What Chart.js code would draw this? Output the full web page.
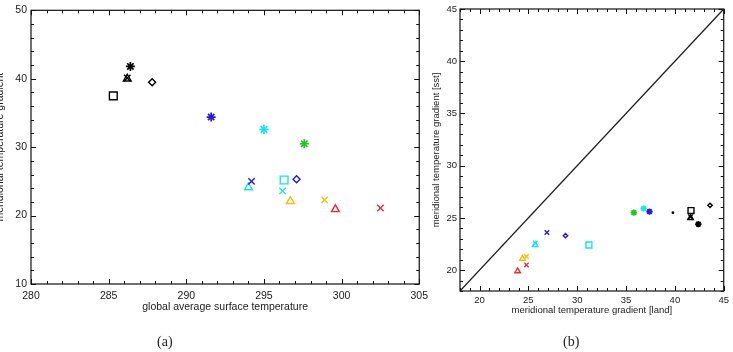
<!DOCTYPE html>
<html lang="en">
<head>
    <meta charset="UTF-8">
    <title>Meridional temperature gradient</title>
    <script src="https://cdn.jsdelivr.net/npm/chart.js"></script>
    <style>
        body {
            margin: 0;
            background: #fff;
            width: 733px;
            height: 352px;
            overflow: hidden;
            position: relative;
        }
        canvas {
            position: absolute;
            top: 0;
        }
        #chartA { left: -6px; }
        #chartB { left: 428px; }
        .caption {
            position: absolute;
            top: 334px;
            font-family: "Liberation Serif", serif;
            font-size: 14px;
            color: #222;
        }
    </style>
</head>
<body>
    <canvas id="chartA" width="440" height="352"></canvas>
    <canvas id="chartB" width="305" height="352"></canvas>
    <div class="caption" style="left:157px">(a)</div>
    <div class="caption" style="left:563px">(b)</div>

    <script>
        // one entry per model (same order in every array)
        const colors = ['#000', '#000', '#000', '#000', '#000',
                        '#2c18dc', '#14e6ee', '#1ec81e', '#2c18dc', '#14e6ee',
                        '#14e6ee', '#2c18dc', '#14e6ee', '#f8bc10', '#f8bc10',
                        '#ec2a36', '#ec2a36', '#000'];
        const shapes = ['rect', 'crossRot', 'triangle', 'star', 'rectRot',
                        'star', 'star', 'star', 'crossRot', 'triangle',
                        'rect', 'rectRot', 'crossRot', 'triangle', 'crossRot',
                        'triangle', 'crossRot', 'dot'];
        // panel (a)
        const globalSurfTemp = [285.3, 286.2, 286.2, 286.4, 287.8,
                                291.6, 295.0, 297.6, 294.2, 294.0,
                                296.3, 297.1, 296.2, 296.7, 298.9,
                                299.6, 302.5, null];
        const meridGrad = [37.5, 40.1, 40.0, 41.8, 39.5,
                           34.4, 32.6, 30.5, 25.0, 24.1,
                           25.2, 25.3, 23.6, 22.1, 22.3,
                           20.9, 21.1, null];
        const ticksAx = [280, 285, 290, 295, 300, 305];
        const ticksAy = [10, 20, 30, 40, 50];
        // panel (b)
        const gradLand = [41.65, 41.6, 41.6, 42.4, 43.6,
                          37.4, 36.8, 35.8, 26.9, 25.7,
                          31.2, 28.8, 25.7, 24.4, 24.8,
                          23.9, 24.8, 39.8];
        const gradSst = [25.7, 25.1, 25.0, 24.4, 26.2,
                         25.6, 25.9, 25.5, 23.6, 22.4,
                         22.4, 23.3, 22.6, 21.1, 21.3,
                         19.9, 20.5, 25.5];
        const ticksB = [20, 25, 30, 35, 40, 45];
        const oneToOne = [18, 45];

        // box frame with inward major + minor ticks on all four sides (IDL look)
        const frameTicks = {
            id: 'frameTicks',
            beforeDatasetsDraw(chart, args, opts) {
                const {ctx, chartArea: a} = chart;
                const xs = chart.scales.x, ys = chart.scales.y;
                ctx.save();
                ctx.strokeStyle = '#111';
                ctx.lineWidth = 1.2;
                ctx.strokeRect(a.left, a.top, a.right - a.left, a.bottom - a.top);
                ctx.lineWidth = 1;
                ctx.beginPath();
                for (let v = xs.min; v <= xs.max + 1e-6; v += opts.xMinor) {
                    const len = Math.abs(v / opts.xMajor - Math.round(v / opts.xMajor)) < 1e-6 ? opts.major : opts.minor;
                    const px = Math.round(xs.getPixelForValue(v)) + 0.5;
                    ctx.moveTo(px, a.bottom); ctx.lineTo(px, a.bottom - len);
                    ctx.moveTo(px, a.top); ctx.lineTo(px, a.top + len);
                }
                for (let v = ys.min; v <= ys.max + 1e-6; v += opts.yMinor) {
                    const len = Math.abs(v / opts.yMajor - Math.round(v / opts.yMajor)) < 1e-6 ? opts.major : opts.minor;
                    const py = Math.round(ys.getPixelForValue(v)) + 0.5;
                    ctx.moveTo(a.left, py); ctx.lineTo(a.left + len, py);
                    ctx.moveTo(a.right, py); ctx.lineTo(a.right - len, py);
                }
                ctx.stroke();
                ctx.restore();
            }
        };

        function markerRadius(shape, r) {
            if (shape === 'dot') return 0.7;
            if (shape === 'rect') return r + 1;
            if (shape === 'rectRot') return r - 1;
            return r;
        }

        function markerSets(xs, ys, radius) {
            return xs.map((x, i) => ({
                data: x === null ? [] : [{x: x, y: ys[i]}],
                pointStyle: shapes[i] === 'dot' ? 'circle' : shapes[i],
                pointRadius: markerRadius(shapes[i], radius),
                borderColor: colors[i],
                backgroundColor: shapes[i] === 'dot' ? colors[i] : 'rgba(0,0,0,0)',
                pointBorderWidth: shapes[i] === 'star' ? 1.7 : 1.4,
                showLine: false
            }));
        }

        function axisOpts(min, max, tickVals, fontSize, titleText, isX, size, pad, titlePad) {
            return {
                type: 'linear',
                min: min,
                max: max,
                grid: { display: false, drawTicks: false },
                border: { display: false },
                afterBuildTicks: s => { s.ticks = tickVals.map(v => ({ value: v })); },
                ticks: { color: '#222', padding: pad, font: { family: 'Liberation Sans', size: fontSize } },
                title: { display: true, text: titleText, color: '#222', padding: titlePad,
                         font: { family: 'Liberation Sans', size: fontSize } },
                afterFit: s => { if (isX) s.height = size; else s.width = size; }
            };
        }

        Chart.register(frameTicks);

        new Chart(document.getElementById('chartA'), {
            type: 'scatter',
            data: { datasets: markerSets(globalSurfTemp, meridGrad, 4.5) },
            options: {
                responsive: false,
                animation: false,
                layout: { padding: { left: 0, right: 13, top: 8, bottom: 39 } },
                plugins: {
                    legend: { display: false },
                    tooltip: { enabled: false },
                    frameTicks: { xMinor: 1, xMajor: 5, yMinor: 2, yMajor: 10, major: 5, minor: 3 }
                },
                scales: {
                    x: axisOpts(280, 305, ticksAx, 10.5, 'global average surface temperature', true, 29, 6, {top: 0, bottom: 0}),
                    y: axisOpts(10, 50, ticksAy, 10.5, 'meridional temperature gradient', false, 37, 4, {top: 0, bottom: 0})
                }
            }
        });

        const setsB = markerSets(gradLand, gradSst, 3.2);
        setsB.unshift({
            type: 'line',
            data: oneToOne.map(v => ({x: v, y: v})),
            borderColor: '#222',
            borderWidth: 1.3,
            pointRadius: 0
        });

        new Chart(document.getElementById('chartB'), {
            type: 'scatter',
            data: { datasets: setsB },
            options: {
                responsive: false,
                animation: false,
                layout: { padding: { left: 0, right: 7, top: 9, bottom: 36 } },
                plugins: {
                    legend: { display: false },
                    tooltip: { enabled: false },
                    frameTicks: { xMinor: 1, xMajor: 5, yMinor: 1, yMajor: 5, major: 5, minor: 3 }
                },
                scales: {
                    x: axisOpts(18, 45, ticksB, 9.5, 'meridional temperature gradient [land]', true, 25, 4, {top: 0, bottom: 0}),
                    y: axisOpts(18, 45, ticksB, 9.5, 'meridional temperature gradient [sst]', false, 32, 3, {top: 3, bottom: 0})
                }
            }
        });
    </script>
</body>
</html>
